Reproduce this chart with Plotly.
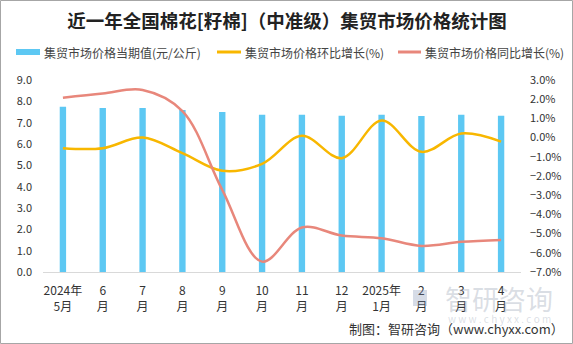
import plotly.graph_objects as go

months = ["2024年<br>5月", "6<br>月", "7<br>月", "8<br>月", "9<br>月", "10<br>月",
          "11<br>月", "12<br>月", "2025年<br>1月", "2<br>月", "3<br>月", "4<br>月"]
price = [7.75, 7.69, 7.69, 7.59, 7.50, 7.37, 7.37, 7.33, 7.37, 7.31, 7.37, 7.33]
mom = [-0.55, -0.55, 0.0, -0.81, -1.73, -1.37, 0.09, -1.07, 0.89, -0.74, 0.21, -0.21]
yoy = [2.08, 2.30, 2.48, 1.38, -2.72, -6.46, -4.68, -5.10, -5.24, -5.64, -5.43, -5.33]
names = ["集贸市场价格当期值(元/公斤)", "集贸市场价格环比增长(%)", "集贸市场价格同比增长(%)"]
colors = ["#5DC8F3", "#F8B700", "#E8877B"]

FONT = "Noto Sans CJK SC, Microsoft YaHei, sans-serif"
W, H = 573, 344
ML, MR, MT, MB = 43, 52, 80, 72
PW, PH = W - ML - MR, H - MT - MB


def px(x):
    return (x - ML) / PW


def py(y):
    return (H - MB - y) / PH


fig = go.Figure()
fig.add_trace(go.Bar(x=months, y=price, name=names[0],
                     marker=dict(color=colors[0], line=dict(width=0)), width=0.16))
fig.add_trace(go.Scatter(x=months, y=mom, name=names[1], yaxis="y2", mode="lines",
                         line=dict(color=colors[1], width=2.5, shape="spline", smoothing=1)))
fig.add_trace(go.Scatter(x=months, y=yoy, name=names[2], yaxis="y2", mode="lines",
                         line=dict(color=colors[2], width=2.5, shape="spline", smoothing=1)))

fig.update_layout(
    width=W, height=H,
    margin=dict(l=ML, r=MR, t=MT, b=MB),
    paper_bgcolor="white", plot_bgcolor="white",
    font=dict(family=FONT, size=11, color="#333333"),
    title=dict(text="<b>近一年全国棉花[籽棉]（中准级）集贸市场价格统计图</b>",
               x=px(287), xanchor="center", xref="paper", y=1 - 21.5 / H, yanchor="middle",
               font=dict(size=18.5, color="#222222", family=FONT)),
    showlegend=False,
    xaxis=dict(showgrid=False, showline=True, linecolor="#D9D9D9", linewidth=1,
               ticks="", tickfont=dict(size=12, color="#333333"), tickangle=0,
               ticklabelstandoff=8),
    yaxis=dict(range=[0, 9], dtick=1, tickformat=".1f", showgrid=False, zeroline=False,
               showline=False, ticks="", tickfont=dict(size=11, color="#333333"),
               ticklabelstandoff=10),
    yaxis2=dict(range=[-7, 3], dtick=1, tickformat=".1f", ticksuffix="%", overlaying="y",
                side="right", showgrid=False, zeroline=False, showline=False, ticks="",
                tickfont=dict(size=11, color="#333333"), ticklabelstandoff=8),
)

# custom legend (symbol + text)
leg_y = 52
leg_items = [(16, 40, "rect"), (217, 241, "line"), (398, 421, "line")]
for (x0, x1, kind), name, col in zip(leg_items, names, colors):
    if kind == "rect":
        fig.add_shape(type="rect", xref="paper", yref="paper",
                      x0=px(x0), x1=px(x1), y0=py(leg_y + 3), y1=py(leg_y - 3),
                      fillcolor=col, line=dict(width=0))
    else:
        fig.add_shape(type="line", xref="paper", yref="paper",
                      x0=px(x0), x1=px(x1), y0=py(leg_y), y1=py(leg_y),
                      line=dict(color=col, width=3))
    fig.add_annotation(text=name, xref="paper", yref="paper", x=px(x1 + 2), y=py(leg_y),
                       xanchor="left", yanchor="middle", showarrow=False,
                       font=dict(size=12, color="#444444", family=FONT))

# watermark
fig.add_annotation(text="智研咨询", xref="paper", yref="paper", x=px(555), y=py(298),
                   xanchor="right", yanchor="middle", showarrow=False,
                   font=dict(size=27, color="rgba(150,160,178,0.35)", family=FONT))
fig.add_shape(type="rect", xref="paper", yref="paper", x0=px(413), x1=px(427),
              y0=py(306), y1=py(290), fillcolor="rgba(120,140,175,0.3)", line=dict(width=0))
fig.add_annotation(text="w w w . c h y x x . c o m", xref="paper", yref="paper",
                   x=px(553), y=py(318), xanchor="right", yanchor="middle", showarrow=False,
                   font=dict(size=10, color="rgba(150,160,178,0.35)", family=FONT))
# footer
fig.add_annotation(text="制图：智研咨询（www.chyxx.com）", xref="paper", yref="paper",
                   x=px(566), y=py(328), xanchor="right", yanchor="middle", showarrow=False,
                   font=dict(size=13, color="#333333", family=FONT))
# outer border
fig.add_shape(type="rect", xref="paper", yref="paper",
              x0=px(0.5), x1=px(W - 0.5), y0=py(H - 0.5), y1=py(0.5),
              line=dict(color="#A6A6A6", width=1), fillcolor="rgba(0,0,0,0)", layer="below")

fig.write_html("out.html")
